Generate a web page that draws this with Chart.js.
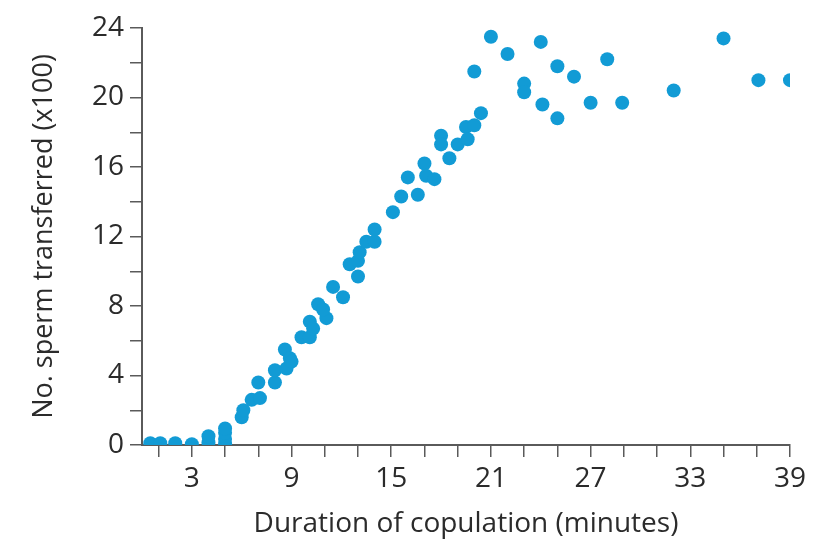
<!DOCTYPE html>
<html>
<head>
<meta charset="utf-8">
<script src="https://cdn.jsdelivr.net/npm/chart.js@4/dist/chart.umd.min.js"></script>
<style>
  html, body { margin: 0; padding: 0; background: #fff; }
  #wrap { width: 823px; height: 546px; }
</style>
</head>
<body>
<div id="wrap"><canvas id="myChart"></canvas></div>
<script>
// duration of copulation (minutes)
const durations = [0.5, 1.1, 2.0, 3.0, 4.0, 4.0, 5.0, 5.0, 5.0, 5.0,
  6.0, 6.1, 6.6, 7.1, 7.0, 8.0, 8.0, 8.7, 8.6, 8.9, 9.0, 9.6, 10.1, 10.1, 10.3,
  10.6, 11.1, 10.9, 11.5, 12.1, 12.5, 13.0, 13.0, 13.1, 13.5, 14.0, 14.0,
  15.1, 15.6, 16.0, 16.6, 17.0, 17.1, 17.6, 18.0, 18.0, 18.5, 19.0, 19.5, 19.6,
  20.0, 20.4, 20.0, 21.0, 22.0, 23.0, 23.0, 24.0, 24.1, 25.0, 25.0, 26.0,
  27.0, 28.0, 28.9, 32.0, 35.0, 37.1, 39.0];
// sperm transferred (x100)
const spermCounts = [0.1, 0.1, 0.1, 0.05, 0.15, 0.5, 0.05, 0.35, 0.7, 0.95,
  1.6, 2.0, 2.6, 2.7, 3.6, 3.6, 4.3, 4.4, 5.5, 5.0, 4.8, 6.2, 6.2, 7.1, 6.7,
  8.1, 7.3, 7.8, 9.1, 8.5, 10.4, 10.6, 9.7, 11.1, 11.7, 11.7, 12.4,
  13.4, 14.3, 15.4, 14.4, 16.2, 15.5, 15.3, 17.8, 17.3, 16.5, 17.3, 18.3, 17.6,
  18.4, 19.1, 21.5, 23.5, 22.5, 20.8, 20.3, 23.2, 19.6, 21.8, 18.8, 21.2,
  19.7, 22.2, 19.7, 20.4, 23.4, 21.0, 21.0];

const xTicks = [1, 3, 5, 7, 9, 11, 13, 15, 17, 19, 21, 23, 25, 27, 29, 31, 33, 35, 37, 39];
const xTickLabels = [3, 9, 15, 21, 27, 33, 39];
const yTicks = [0, 2, 4, 6, 8, 10, 12, 14, 16, 18, 20, 22, 24];
const yTickLabels = [0, 4, 8, 12, 16, 20, 24];

const points = durations.map((d, i) => ({ x: d, y: spermCounts[i] }));

const axisColor = '#5a5a5a';
const textColor = '#2b2b2b';

var ctx = document.getElementById('myChart').getContext('2d');
var chart = new Chart(ctx, {
    type: 'scatter',
    data: {
        datasets: [{
            data: points,
            backgroundColor: '#129bd5',
            borderColor: '#129bd5',
            pointRadius: 7,
            pointHoverRadius: 7,
            borderWidth: 0
        }]
    },
    options: {
        responsive: true,
        maintainAspectRatio: false,
        animation: false,
        layout: { padding: { top: 28, right: 33, left: 0, bottom: 0 } },
        plugins: { legend: { display: false }, tooltip: { enabled: false } },
        scales: {
            x: {
                type: 'linear',
                min: 0,
                max: 39,
                afterBuildTicks: axis => { axis.ticks = xTicks.map(v => ({ value: v })); },
                afterFit: axis => { axis.height = 101; },
                ticks: {
                    autoSkip: false,
                    maxRotation: 0,
                    color: textColor,
                    padding: 5,
                    font: { family: 'Open Sans', size: 28 },
                    callback: v => xTickLabels.includes(v) ? String(v) : ''
                },
                grid: { drawOnChartArea: false, drawTicks: true, tickLength: 12, color: axisColor, lineWidth: 1.5 },
                border: { display: true, color: axisColor, width: 2 },
                title: {
                    display: true,
                    text: 'Duration of copulation (minutes)',
                    color: textColor,
                    padding: { top: 0, bottom: 5 },
                    font: { family: 'Open Sans', size: 28 }
                }
            },
            y: {
                min: 0,
                max: 24,
                afterBuildTicks: axis => { axis.ticks = yTicks.map(v => ({ value: v })); },
                afterFit: axis => { axis.width = 142; },
                ticks: {
                    autoSkip: false,
                    color: textColor,
                    padding: 6,
                    font: { family: 'Open Sans', size: 28 },
                    callback: v => yTickLabels.includes(v) ? String(v) : ''
                },
                grid: { drawOnChartArea: false, drawTicks: true, tickLength: 12, color: axisColor, lineWidth: 1.5 },
                border: { display: true, color: axisColor, width: 2 },
                title: {
                    display: true,
                    text: 'No. sperm transferred (x100)',
                    color: textColor,
                    padding: { top: 28, bottom: 0 },
                    font: { family: 'Open Sans', size: 27 }
                }
            }
        }
    }
});
</script>
</body>
</html>
